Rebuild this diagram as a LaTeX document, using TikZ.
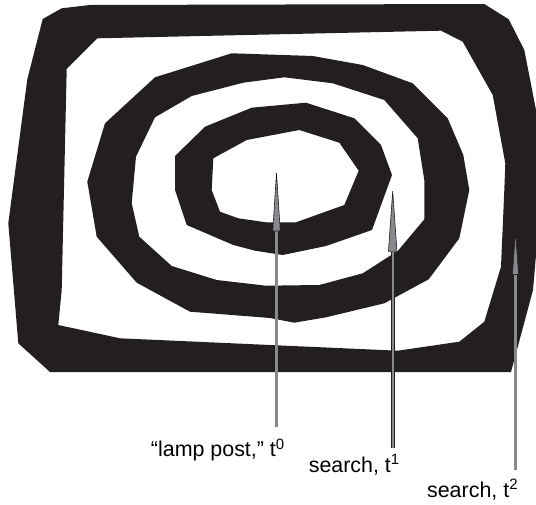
\documentclass[tikz,border=0pt]{standalone}
\usepackage{fontspec}
\setmainfont{Liberation Sans}
\usetikzlibrary{arrows.meta}
\definecolor{ink}{RGB}{35,31,32}
\definecolor{ptrgray}{RGB}{135,137,143}

\begin{document}
\begin{tikzpicture}[
  x=1bp, y=-1bp,
  ring/.style={fill=ink, even odd rule},
  ptr/.style 2 args={draw=ink, line width=0.8bp, double=ptrgray, double distance=2.3bp,
                     -{Triangle[length=#1, width=#2, fill=ptrgray, line width=0.6bp]}},
  lbl/.style={font=\fontsize{21.5}{24}\selectfont, anchor=base east, inner sep=0pt}
]
\useasboundingbox (0,0) rectangle (536,505);

% outer ring
\fill[ring] (42.7,19) -- (61.7,8.3) -- (90,5) -- (484.3,4) -- (508.7,19.3) -- (524.3,50)
  -- (536,110) -- (536,255) -- (533,290) -- (511,372) -- (50,372) -- (18.3,343.3)
  -- (8.3,223.3) -- (27.3,79.3) -- cycle
  (97.3,38.3) -- (441,30.7) -- (462.7,41.7) -- (492.7,95) -- (505.3,163.3) -- (504.3,190)
  -- (501,266.7) -- (484.3,321.7) -- (459.3,341.7) -- (397.7,350.7) -- (120,338.3)
  -- (58.3,325) -- (61.7,290) -- (66.7,69) -- cycle;

% middle ring
\fill[ring] (231.7,53.3) -- (312.7,56) -- (362.7,65) -- (412.7,83.3) -- (447.7,118.3)
  -- (463.3,155) -- (469.3,190) -- (459.3,238.3) -- (428.7,279.3) -- (384.3,303.3)
  -- (326,317.3) -- (294.3,322.7) -- (270,318) -- (190,311.7) -- (136.7,282.7)
  -- (96.7,236.7) -- (87.3,181.7) -- (105,123.3) -- (155,77.3) -- cycle
  (243.3,82.7) -- (284.3,77.3) -- (332.7,83.3) -- (384.3,100) -- (417.7,138.3)
  -- (424.3,180) -- (424.3,219.3) -- (398,250.7) -- (362.7,273.3) -- (319.3,285)
  -- (266,285.7) -- (216.7,280) -- (171.7,266) -- (139.3,236.7) -- (131.7,203.3)
  -- (136,156.7) -- (155,117.3) -- (191.7,96) -- cycle;

% inner ring
\fill[ring] (251.7,107.7) -- (306,102.7) -- (354.3,118.3) -- (381,145) -- (392,175)
  -- (372,230) -- (326,246) -- (282.7,255) -- (255,250.7) -- (233.3,245) -- (186.7,225)
  -- (175,190) -- (175,156) -- (205,126.7) -- cycle
  (246.7,140) -- (299.3,130) -- (339.3,142.7) -- (358.7,170.7) -- (344.3,205)
  -- (296,222.3) -- (266,222.3) -- (238.3,218.3) -- (220,211.7) -- (211.7,190)
  -- (213.3,158.3) -- cycle;

% pointers
\coordinate (t0) at (276.5,168.3);
\coordinate (t1) at (392.7,186.7);
\coordinate (t2) at (515.5,226.7);
\coordinate (b0) at (276.5,426.7);
\coordinate (b1) at (392.7,447.7);
\coordinate (b2) at (515.5,470);
\draw[ptr={63bp}{8bp}] (b0) -- (t0);
\draw[ptr={65bp}{9bp}] (b1) -- (t1);
\draw[ptr={48bp}{6.5bp}] (b2) -- (t2);

\node[lbl] (l0) at (285,456.7) {“lamp post,” t\textsuperscript{0}};
\node[lbl] (l1) at (400,472.3) {search, t\textsuperscript{1}};
\node[lbl] (l2) at (518.3,497.3) {search, t\textsuperscript{2}};
\end{tikzpicture}
\end{document}
